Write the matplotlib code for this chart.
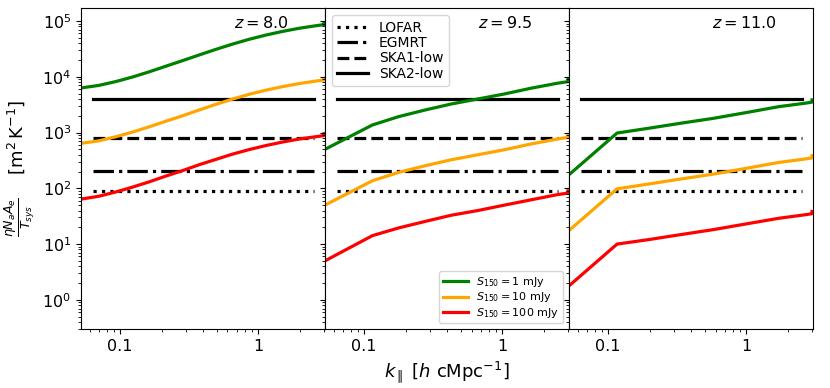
import numpy as np
import matplotlib.pyplot as plt

# k_parallel values [h/cMpc] and collecting area per sky temperature for each redshift
redshifts = [8.0, 9.5, 11.0]

k_z8 = [0.052, 0.07, 0.093, 0.123, 0.163, 0.215, 0.284, 0.374, 0.494,
        0.652, 0.861, 1.14, 1.50, 1.98, 2.6, 2.99, 3.0]
s1_z8 = [6300, 7000, 8200, 9900, 12300, 15500, 19500, 24600, 31000,
         38500, 47000, 56000, 65000, 74000, 82000, 86000, 93000]
s10_z8 = [640, 710, 840, 1020, 1270, 1600, 2000, 2540, 3200,
          3980, 4850, 5750, 6650, 7550, 8350, 8750, 9400]
s100_z8 = [64, 72, 86, 105, 131, 166, 208, 265, 330,
           410, 495, 585, 675, 765, 840, 880, 950]

k_z95 = [0.052, 0.115, 0.178, 0.277, 0.430, 0.668, 1.04, 1.61, 2.51, 2.99, 3.0]
s1_z95 = [500, 1370, 1930, 2540, 3260, 4000, 4920, 6220, 7650, 8170, 9000]
s10_z95 = [50, 137, 193, 254, 326, 400, 492, 622, 765, 817, 900]
s100_z95 = [5.0, 14.2, 19.5, 25.5, 33, 40, 50, 62, 77, 82, 90]

k_z11 = [0.052, 0.116, 0.195, 0.336, 0.58, 1.0, 1.72, 2.66, 2.99, 3.0]
s1_z11 = [175, 980, 1190, 1470, 1800, 2280, 2910, 3350, 3500, 3850]
s10_z11 = [17.5, 98, 119, 147, 180, 228, 291, 335, 350, 385]
s100_z11 = [1.78, 10, 12, 14.8, 18.2, 23, 29, 33.5, 35, 38.5]

k_lists = [k_z8, k_z95, k_z11]
s1_lists = [s1_z8, s1_z95, s1_z11]
s10_lists = [s10_z8, s10_z95, s10_z11]
s100_lists = [s100_z8, s100_z95, s100_z11]

# telescope sensitivities (horizontal lines)
telescopes = ['LOFAR', 'EGMRT', 'SKA1-low', 'SKA2-low']
tel_values = [90, 205, 810, 4000]
tel_styles = [':', '-.', '--', '-']
tel_krange = [0.064, 2.55]

flux_labels = [r'$S_{150} = 1$ mJy', r'$S_{150} = 10$ mJy', r'$S_{150} = 100$ mJy']
flux_colors = ['green', 'orange', 'red']

fig, axes = plt.subplots(1, 3, sharey=True, figsize=(8.3, 3.88), dpi=100)
fig.subplots_adjust(left=0.0975, right=0.9795, bottom=0.152, top=0.979, wspace=0)

for i, ax in enumerate(axes):
    for name, val, ls in zip(telescopes, tel_values, tel_styles):
        ax.plot(tel_krange, [val, val], ls=ls, color='black', lw=2.3, label=name)
    series = [s1_lists[i], s10_lists[i], s100_lists[i]]
    for vals, lab, col in zip(series, flux_labels, flux_colors):
        ax.plot(k_lists[i], vals, color=col, lw=2.3, label=lab)
    ax.set_xscale('log')
    ax.set_yscale('log')
    ax.set_xlim(0.052, 3.05)
    ax.set_ylim(0.3, 1.7e5)
    ax.set_xticks([0.1, 1])
    ax.set_xticklabels(['0.1', '1'])
    ax.tick_params(labelsize=11.5)
    ax.text(0.85, 0.955, r'$z = %.1f$' % redshifts[i], transform=ax.transAxes,
            ha='right', va='center', fontsize=11.5)

handles, labels = axes[1].get_legend_handles_labels()
leg1 = axes[1].legend(handles[:4], labels[:4], loc='upper left', fontsize=10,
                      handlelength=2.2, labelspacing=0.1, borderpad=0.4)
axes[1].add_artist(leg1)
axes[1].legend(handles[4:], labels[4:], loc='lower right', fontsize=8,
               handlelength=2.2, labelspacing=0.1, borderpad=0.35)

axes[0].set_ylabel(r'$\frac{\eta N_a A_e}{T_{sys}}$    [m$^2\,$K$^{-1}$]', fontsize=13)
axes[1].set_xlabel(r'$k_\parallel$ [$h$ cMpc$^{-1}$]', fontsize=13)

plt.savefig('out.png')
